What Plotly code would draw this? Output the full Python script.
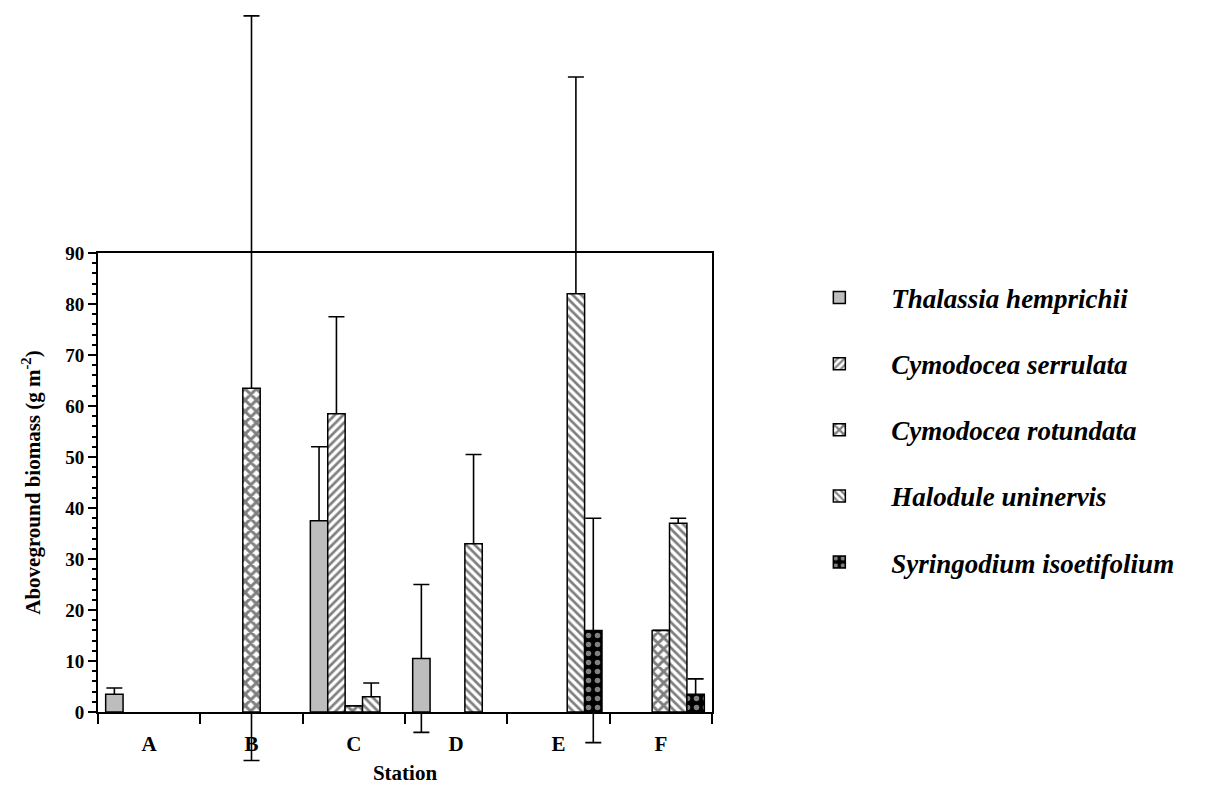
import plotly.graph_objects as go

stations = ["A", "B", "C", "D", "E", "F"]

species = [
    "Thalassia hemprichii",
    "Cymodocea serrulata",
    "Cymodocea rotundata",
    "Halodule uninervis",
    "Syringodium isoetifolium",
]

# mean aboveground biomass (g m-2), None = not present
thalassia = [3.5, None, 37.5, 10.5, None, None]
serrulata = [None, None, 58.5, None, None, None]
rotundata = [None, 63.5, 1.2, None, None, 16]
halodule = [None, None, 3, 33, 82, 37]
syringodium = [None, None, None, None, 16, 3.5]

# standard deviations
thalassia_sd = [1.2, 0, 14.5, 14.5, 0, 0]
serrulata_sd = [0, 0, 19, 0, 0, 0]
rotundata_sd = [0, 73, 0, 0, 0, 0]
halodule_sd = [0, 0, 2.7, 17.5, 42.5, 1]
syringodium_sd = [0, 0, 0, 0, 22, 3]

values = [thalassia, serrulata, rotundata, halodule, syringodium]
errors = [thalassia_sd, serrulata_sd, rotundata_sd, halodule_sd, syringodium_sd]

patterns = [
    dict(shape=""),
    dict(shape="/", fgcolor="black", bgcolor="white", size=6, solidity=0.45),
    dict(shape="x", fgcolor="black", bgcolor="white", size=8, solidity=0.6),
    dict(shape="\\", fgcolor="black", bgcolor="white", size=6, solidity=0.45),
    dict(shape=".", fgcolor="white", bgcolor="black", size=9, solidity=0.3),
]
fills = ["#bdbdbd", "white", "white", "white", "black"]

serif = "Liberation Serif"
slot = 0.17  # width of one species bar inside a station group
pos = list(range(len(stations)))

# frame geometry (figure pixels); the sd whiskers run far outside the 0-90 frame,
# so they live on a full-height helper axis with the same scale
H = 788
y0_px, y90_px = 704, 245
ppu = (y0_px - y90_px) / 90
frame_dom = [(H - y0_px) / H, (H - y90_px) / H]
whisker_range = [-(H - y0_px) / ppu, y0_px / ppu]

fig = go.Figure()
for i in range(len(species)):
    xs = [p + (i - 2) * slot for p in pos]
    fig.add_trace(go.Scatter(
        x=xs, y=values[i], mode="markers",
        marker=dict(size=1, opacity=0),
        error_y=dict(type="data", array=errors[i], visible=True,
                     color="black", thickness=1.6, width=8),
        showlegend=False, hoverinfo="skip",
        xaxis="x", yaxis="y",
    ))
for i in range(len(species)):
    xs = [p + (i - 2) * slot for p in pos]
    fig.add_trace(go.Bar(
        x=xs, y=values[i], width=slot,
        name=species[i], legendgroup=species[i],
        marker=dict(color=fills[i], pattern=patterns[i],
                    line=dict(color="black", width=1.5)),
        xaxis="x2", yaxis="y2",
    ))

fig.update_layout(
    width=1207, height=H,
    barmode="overlay",
    paper_bgcolor="white", plot_bgcolor="rgba(0,0,0,0)",
    margin=dict(l=90, r=503, t=0, b=0),
    font=dict(family=serif, color="black", size=18),
    showlegend=True,
    legend=dict(
        x=1.1227, y=0.663, xanchor="left", yanchor="top",
        font=dict(family=serif, size=27, weight="bold", style="italic"),
        tracegroupgap=28, itemwidth=94,
    ),
    xaxis=dict(range=[-0.5, 5.5], domain=[0, 1], visible=False, anchor="y"),
    yaxis=dict(range=whisker_range, domain=[0, 1], visible=False, anchor="x"),
    xaxis2=dict(
        range=[-0.5, 5.5], domain=[0, 1], anchor="y2", automargin=False,
        showline=True, linecolor="black", linewidth=2, mirror=True,
        tickvals=pos, ticktext=stations, ticks="",
        ticklabelstandoff=12,
        minor=dict(tickvals=[p - 0.5 for p in pos] + [pos[-1] + 0.5],
                   ticks="outside", ticklen=10, tickwidth=2, tickcolor="black"),
        tickfont=dict(family=serif, size=21, weight="bold"),
        title=dict(text="Station", font=dict(family=serif, size=21, weight="bold"),
                   standoff=10),
        showgrid=False, zeroline=False,
    ),
    yaxis2=dict(
        range=[0, 90], dtick=10, domain=frame_dom, anchor="x2", automargin=False,
        showline=True, linecolor="black", linewidth=2, mirror=True,
        ticks="outside", ticklen=8, tickwidth=2, tickcolor="black",
        minor=dict(dtick=2, ticks="outside", ticklen=4, tickwidth=1.5,
                   tickcolor="black"),
        tickfont=dict(family=serif, size=19, weight="bold"),
        title=dict(text="Aboveground biomass (g m<sup>-2</sup>)",
                   font=dict(family=serif, size=21, weight="bold"), standoff=19),
        showgrid=False, zeroline=False,
    ),
)

fig.write_html("out.html")
